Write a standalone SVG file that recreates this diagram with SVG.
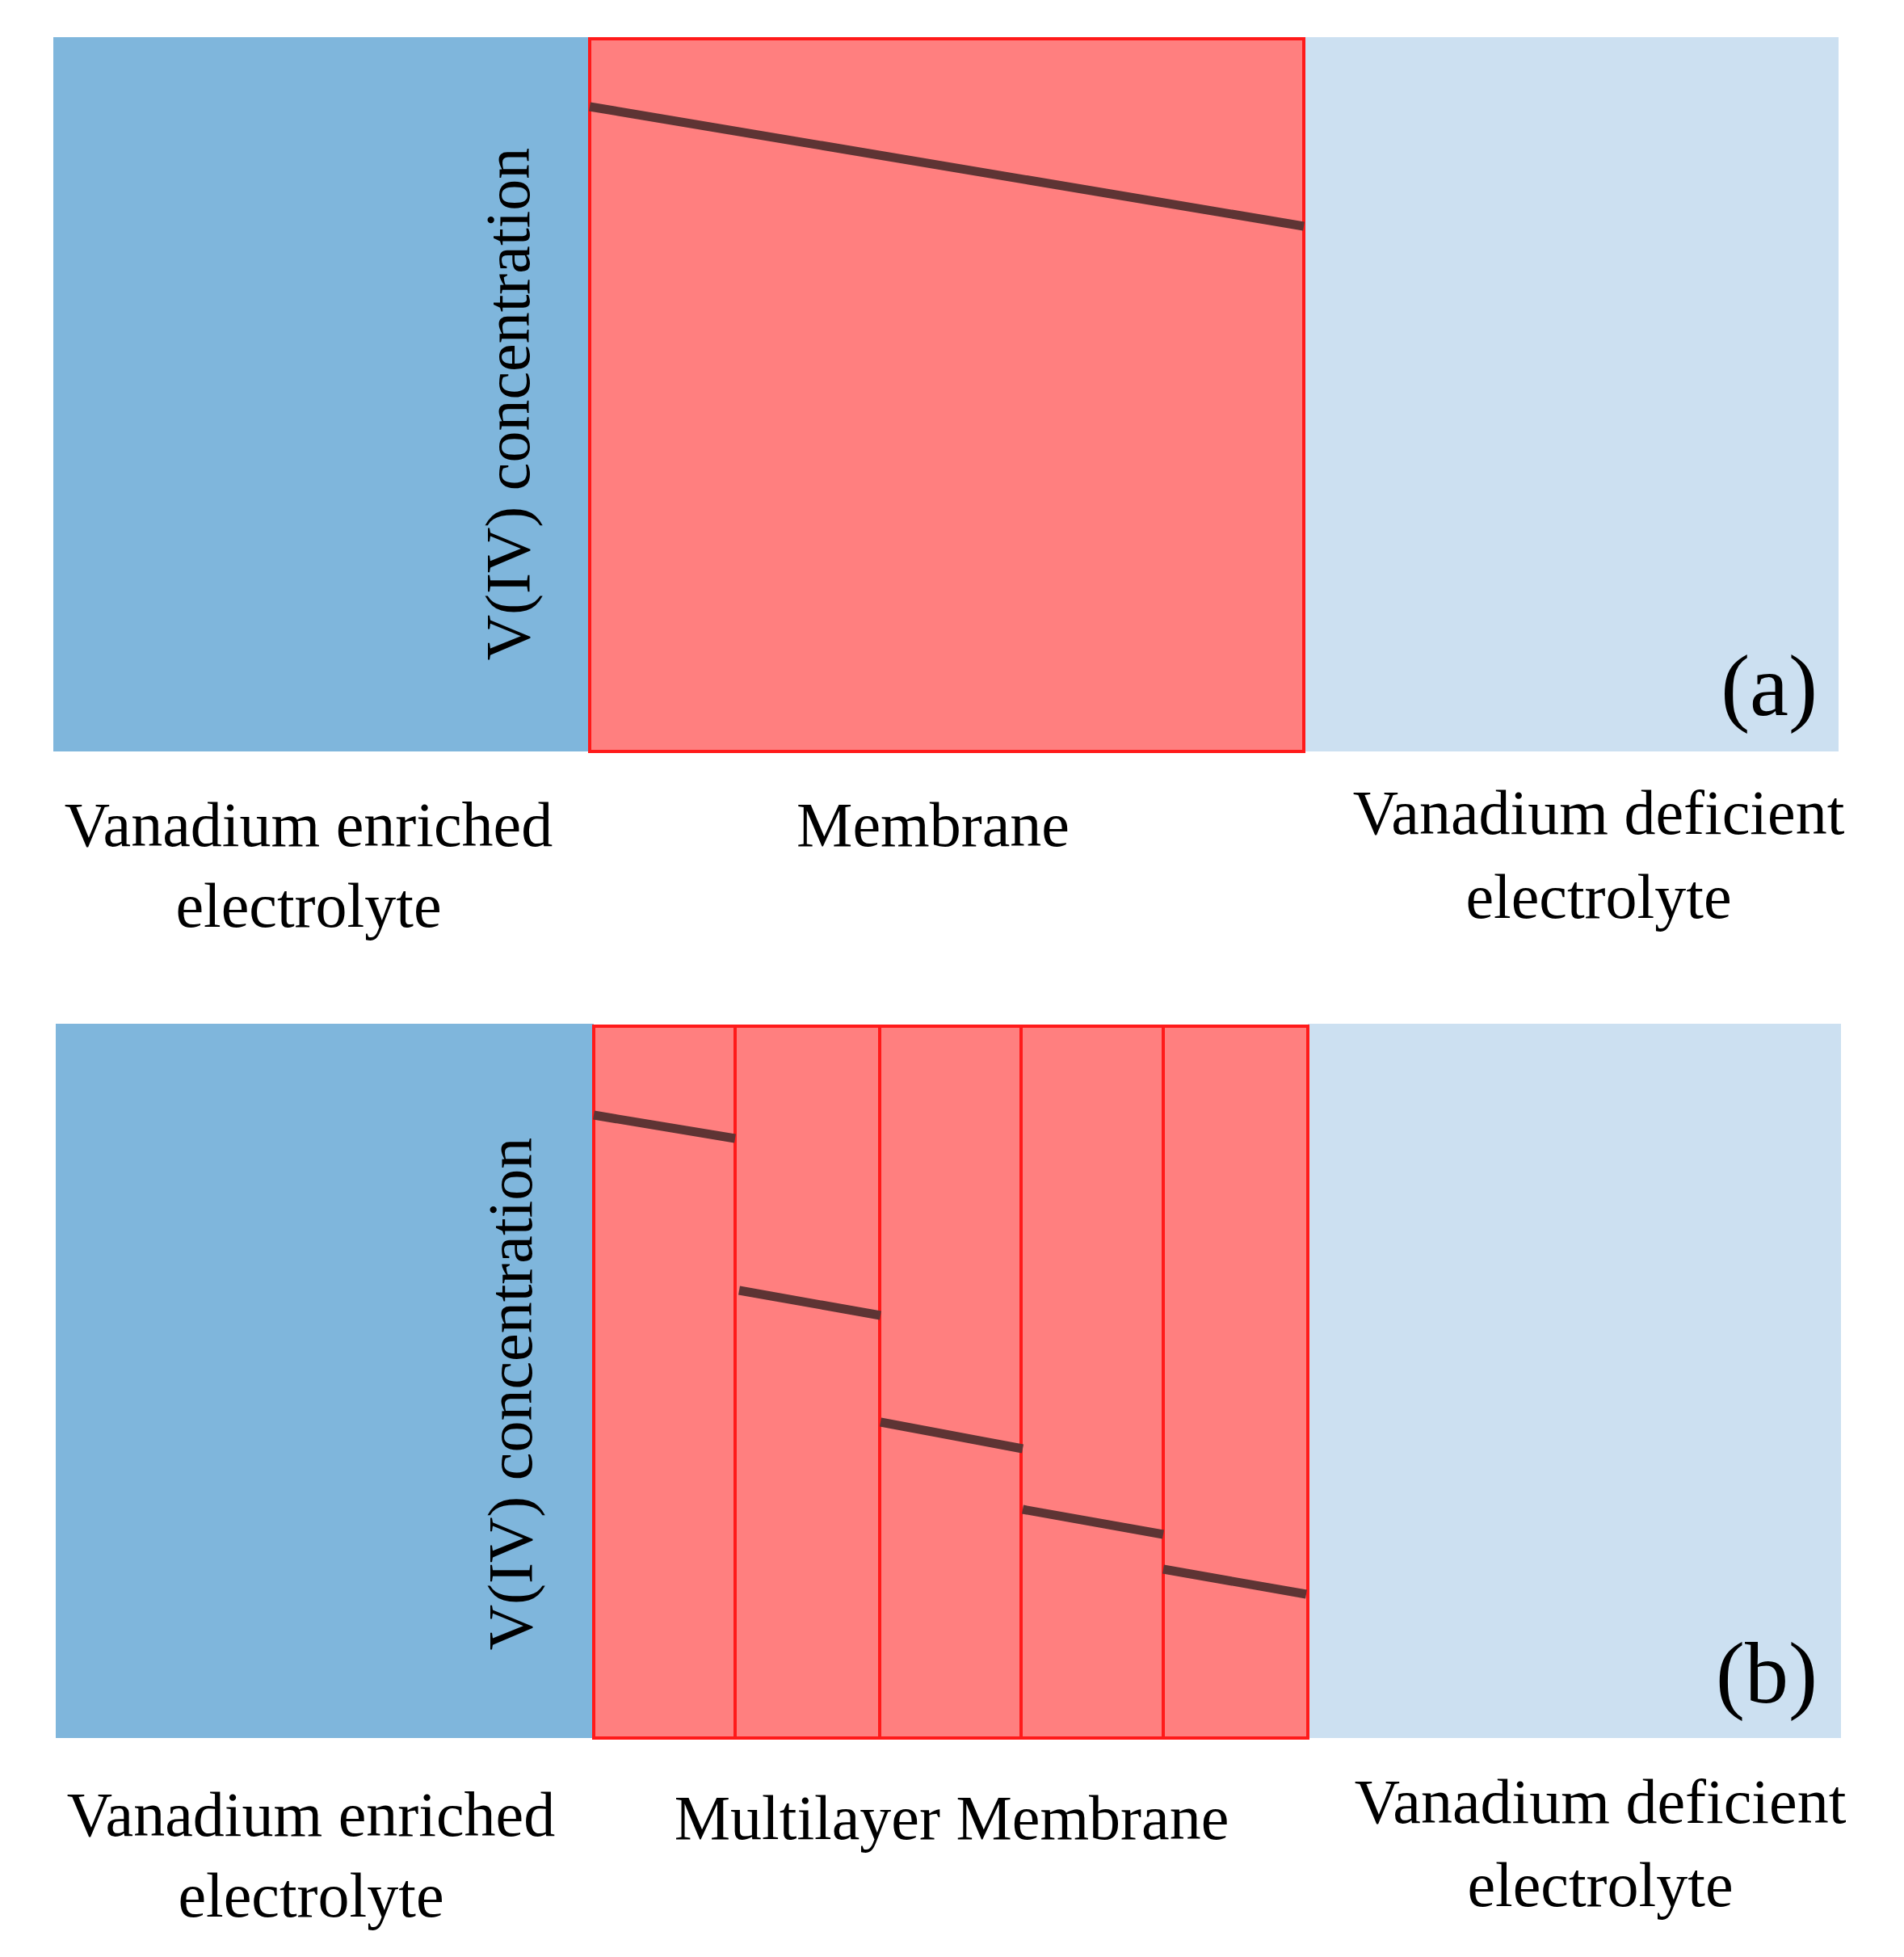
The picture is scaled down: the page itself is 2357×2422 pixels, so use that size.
<svg xmlns="http://www.w3.org/2000/svg" width="2357" height="2422" viewBox="0 0 2357 2422">
<style>
.b{fill:#7FB6DC}.lb{fill:#CCE0F1}.m{fill:#FF7F7F;stroke:#FF1A1A;stroke-width:4}
.d{stroke:#FF1A1A;stroke-width:4}
.c{stroke:#5E3434;stroke-width:11;fill:none}
text{font-family:"Liberation Serif",serif;font-size:78px;fill:#000;text-anchor:middle}
.lab{font-size:108px;text-anchor:end}
</style>
<rect width="2357" height="2422" fill="#fff"/>
<g id="panelA">
<rect class="b" x="66" y="46" width="664" height="884"/>
<rect class="lb" x="1614" y="46" width="662" height="884"/>
<rect class="m" x="730" y="48" width="884" height="882"/>
<text transform="translate(655,500) rotate(-90)">V(IV) concentration</text>
<text x="382" y="1047">Vanadium  enriched</text>
<text x="382" y="1147">electrolyte</text>
<text x="1155" y="1047">Membrane</text>
<text x="1979" y="1032">Vanadium  deficient</text>
<text x="1979" y="1136">electrolyte</text>
<text class="lab" x="2250" y="885">(a)</text>
</g>
<g id="panelB">
<rect class="b" x="69" y="1267" width="666" height="884"/>
<rect class="lb" x="1619" y="1267" width="660" height="884"/>
<rect class="m" x="735" y="1270" width="884" height="881"/>
<line class="d" x1="910" y1="1270" x2="910" y2="2151"/>
<line class="d" x1="1089" y1="1270" x2="1089" y2="2151"/>
<line class="d" x1="1264" y1="1270" x2="1264" y2="2151"/>
<line class="d" x1="1440" y1="1270" x2="1440" y2="2151"/>
<text transform="translate(658,1725) rotate(-90)">V(IV) concentration</text>
<text x="385" y="2272">Vanadium  enriched</text>
<text x="385" y="2372">electrolyte</text>
<text x="1178" y="2276">Multilayer  Membrane</text>
<text x="1981" y="2256">Vanadium  deficient</text>
<text x="1981" y="2359">electrolyte</text>
<text class="lab" x="2250" y="2107">(b)</text>
</g>
<g id="connectors">
<line class="c" x1="730" y1="132" x2="1614" y2="280"/>
<line class="c" x1="735" y1="1380" x2="910" y2="1409"/>
<line class="c" x1="915" y1="1597" x2="1090" y2="1628"/>
<line class="c" x1="1090" y1="1760" x2="1266" y2="1793"/>
<line class="c" x1="1266" y1="1868" x2="1440" y2="1899"/>
<line class="c" x1="1440" y1="1942" x2="1617" y2="1973"/>
</g>
</svg>
